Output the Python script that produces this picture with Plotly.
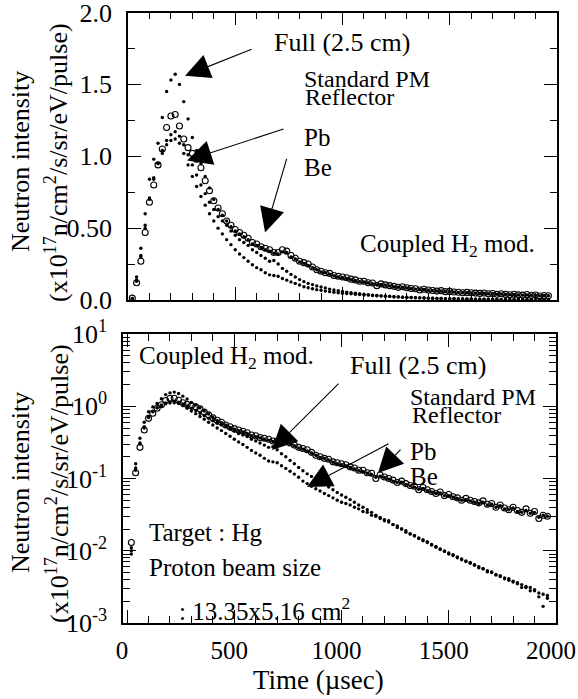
import plotly.graph_objects as go

# ---------------- data ----------------
time_us = [20, 40, 60, 80, 100, 120, 140, 160, 180, 200,
           220, 240, 260, 280, 300, 320, 340, 360, 380, 400,
           420, 440, 460, 480, 500, 520, 540, 560, 580, 600,
           620, 640, 660, 680, 700, 720, 740, 760, 780, 800,
           820, 840, 860, 880, 900, 920, 940, 960, 980, 1000,
           1020, 1040, 1060, 1080, 1100, 1120, 1140, 1160, 1180, 1200,
           1220, 1240, 1260, 1280, 1300, 1320, 1340, 1360, 1380, 1400,
           1420, 1440, 1460, 1480, 1500, 1520, 1540, 1560, 1580, 1600,
           1620, 1640, 1660, 1680, 1700, 1720, 1740, 1760, 1780, 1800,
           1820, 1840, 1860, 1880, 1900, 1920, 1940, 1960]

full_2p5cm = [0.009, 0.16, 0.36, 0.60, 0.84, 0.98, 1.09, 1.27, 1.45, 1.53,
              1.57, 1.50, 1.38, 1.26, 1.13, 1.04, 0.95, 0.86, 0.78, 0.70,
              0.63, 0.59, 0.55, 0.51, 0.48, 0.46, 0.44, 0.42, 0.39, 0.38,
              0.365, 0.35, 0.34, 0.325, 0.32, 0.335, 0.33, 0.30, 0.285, 0.265,
              0.255, 0.24, 0.225, 0.21, 0.195, 0.19, 0.18, 0.168, 0.16, 0.155,
              0.15, 0.142, 0.136, 0.128, 0.125, 0.118, 0.114, 0.104, 0.108, 0.103,
              0.098, 0.092, 0.088, 0.089, 0.083, 0.079, 0.076, 0.071, 0.073, 0.068,
              0.065, 0.062, 0.063, 0.058, 0.058, 0.055, 0.053, 0.050, 0.051, 0.049,
              0.047, 0.045, 0.047, 0.043, 0.044, 0.040, 0.042, 0.038, 0.037, 0.039,
              0.035, 0.034, 0.036, 0.033, 0.034, 0.029, 0.031, 0.030]

standard_pm = [0.013, 0.12, 0.27, 0.47, 0.68, 0.80, 0.94, 1.05, 1.20, 1.28,
               1.29, 1.21, 1.12, 1.06, 1.02, 0.98, 0.92, 0.83, 0.76, 0.69,
               0.64, 0.60, 0.55, 0.52, 0.49, 0.47, 0.45, 0.43, 0.40, 0.39,
               0.37, 0.36, 0.35, 0.33, 0.33, 0.35, 0.34, 0.31, 0.29, 0.27,
               0.26, 0.25, 0.23, 0.21, 0.20, 0.19, 0.185, 0.17, 0.165, 0.16,
               0.155, 0.145, 0.14, 0.13, 0.13, 0.12, 0.118, 0.10, 0.112, 0.105,
               0.10, 0.095, 0.088, 0.092, 0.085, 0.08, 0.078, 0.07, 0.075, 0.07,
               0.066, 0.062, 0.065, 0.058, 0.06, 0.056, 0.054, 0.05, 0.053, 0.05,
               0.048, 0.046, 0.049, 0.044, 0.045, 0.04, 0.043, 0.039, 0.037, 0.04,
               0.036, 0.034, 0.038, 0.033, 0.035, 0.028, 0.031, 0.03]

pb_reflector = [0.011, 0.13, 0.30, 0.50, 0.70, 0.84, 0.95, 1.04, 1.11, 1.15,
                1.17, 1.14, 1.08, 1.01, 0.94, 0.87, 0.80, 0.74, 0.68, 0.63,
                0.58, 0.55, 0.52, 0.48, 0.45, 0.42, 0.40, 0.38, 0.35, 0.33,
                0.31, 0.29, 0.27, 0.275, 0.25, 0.22, 0.20, 0.178, 0.16, 0.142,
                0.128, 0.116, 0.107, 0.097, 0.090, 0.083, 0.076, 0.070, 0.064, 0.059,
                0.055, 0.051, 0.047, 0.043, 0.040, 0.037, 0.034, 0.031, 0.029, 0.027,
                0.026, 0.023, 0.022, 0.020, 0.019, 0.017, 0.0163, 0.015, 0.0142, 0.0133,
                0.0122, 0.0115, 0.0106, 0.0099, 0.0093, 0.0088, 0.0082, 0.0077, 0.0072, 0.0069,
                0.0064, 0.0060, 0.0057, 0.0053, 0.0051, 0.0047, 0.0045, 0.0042, 0.0041, 0.0038,
                0.0036, 0.0034, 0.0031, 0.0031, 0.0028, 0.0026, 0.0025, 0.0024]

be_reflector = [0.01, 0.14, 0.31, 0.52, 0.71, 0.85, 0.95, 1.02, 1.08, 1.11,
                1.12, 1.09, 1.02, 0.94, 0.86, 0.79, 0.72, 0.66, 0.60, 0.55,
                0.50, 0.46, 0.42, 0.385, 0.35, 0.32, 0.295, 0.27, 0.245, 0.225,
                0.21, 0.19, 0.175, 0.17, 0.165, 0.15, 0.138, 0.126, 0.115, 0.104,
                0.092, 0.085, 0.078, 0.072, 0.067, 0.062, 0.058, 0.054, 0.050, 0.047,
                0.045, 0.043, 0.040, 0.038, 0.035, 0.034, 0.031, 0.030, 0.028, 0.026,
                0.025, 0.023, 0.021, 0.020, 0.018, 0.0172, 0.016, 0.0148, 0.0137, 0.013,
                0.012, 0.0112, 0.0104, 0.0098, 0.009, 0.0086, 0.008, 0.0075, 0.0071, 0.0067,
                0.0063, 0.0058, 0.0056, 0.0051, 0.005, 0.0046, 0.0044, 0.0041, 0.0039, 0.0037,
                0.0035, 0.0031, 0.0032, 0.0028, 0.0029, 0.0023, 0.0017, 0.0022]

x_tick_vals = [0, 500, 1000, 1500, 2000]
x_tick_text = ["0", "500", "1000", "1500", "2000"]
y_lin_tick_vals = [0.0, 0.5, 1.0, 1.5, 2.0]
y_lin_tick_text = ["0.0", "0.50", "1.0", "1.5", "2.0"]
y_log_tick_vals = [1e-3, 1e-2, 1e-1, 1e0, 1e1]
y_log_tick_text = ["10<sup>-3</sup>", "10<sup>-2</sup>", "10<sup>-1</sup>",
                   "10<sup>0</sup>", "10<sup>1</sup>"]
log_decades = [1e-3, 1e-2, 1e-1, 1e0]
log_minor_digits = [2, 3, 4, 5, 6, 7, 8, 9]

# ---------------- figure ----------------
W, H = 578, 699
FONT = "Liberation Serif"
BLACK = "black"


def px(x):
    return x / W


def py(y):
    return 1 - y / H


fig = go.Figure()
dot = dict(symbol="circle", size=3.4, color=BLACK, line=dict(width=0))
ring = dict(symbol="circle-open", size=6, color=BLACK, line=dict(width=1.1, color=BLACK))
series = [(full_2p5cm, dot, "Full (2.5 cm)"),
          (pb_reflector, dot, "Pb"),
          (be_reflector, dot, "Be"),
          (standard_pm, ring, "Standard PM")]
for xa, ya in (("x", "y"), ("x2", "y2")):
    for vals, mk, name in series:
        fig.add_trace(go.Scatter(x=time_us, y=vals, mode="markers", marker=mk,
                                 name=name, xaxis=xa, yaxis=ya,
                                 showlegend=False, hoverinfo="skip"))

common = dict(showline=True, linecolor=BLACK, linewidth=1.5, mirror="allticks",
              ticks="inside", ticklen=13, tickwidth=1.2, tickcolor=BLACK,
              showgrid=False, zeroline=False, automargin=False,
              tickfont=dict(family=FONT, size=26, color=BLACK))

minor_x = dict(ticks="inside", ticklen=7, tickwidth=1, tickcolor=BLACK,
               dtick=100, tick0=0, showgrid=False)

log_minor_vals = [d * m for d in log_decades for m in log_minor_digits]

fig.update_layout(
    width=W, height=H, autosize=False,
    margin=dict(l=0, r=0, t=0, b=0, autoexpand=False),
    paper_bgcolor="white", plot_bgcolor="white",
    showlegend=False,
    font=dict(family=FONT, color=BLACK),
    xaxis=dict(domain=[px(128), px(557)], range=[0, 2000], anchor="y",
               tickmode="array", tickvals=x_tick_vals, showticklabels=False,
               minor=minor_x, **common),
    yaxis=dict(domain=[py(300), py(12.5)], range=[0, 2.0], anchor="x",
               tickmode="array", tickvals=y_lin_tick_vals, ticktext=y_lin_tick_text,
               ticklabelstandoff=9, ticklabeloverflow="allow",
               minor=dict(ticks="inside", ticklen=7, tickwidth=1, tickcolor=BLACK,
                          dtick=0.25, tick0=0, showgrid=False),
               **common),
    xaxis2=dict(domain=[px(123), px(556)], range=[-19, 2000], anchor="y2",
                tickmode="array", tickvals=x_tick_vals, ticktext=x_tick_text,
                ticklabelstandoff=4, ticklabelshift=-5, ticklabeloverflow="allow",
                minor=minor_x, **{**common, "tickfont": dict(family=FONT, size=25, color=BLACK)}),
    yaxis2=dict(domain=[py(623), py(334)], type="log", range=[-3, 1], anchor="x2",
                tickmode="array", tickvals=y_log_tick_vals, ticktext=y_log_tick_text,
                ticklabelstandoff=9, ticklabeloverflow="allow",
                minor=dict(ticks="inside", ticklen=7, tickwidth=1, tickcolor=BLACK,
                           tickmode="array", tickvals=log_minor_vals, showgrid=False),
                **common),
)

ann = []


def label(text, x, y, xr, yr, size=25):
    ann.append(dict(text=text, x=x, y=y, xref=xr, yref=yr, showarrow=False,
                    xanchor="left", yanchor="middle",
                    font=dict(family=FONT, size=size, color=BLACK)))


def arrow(x, y, ax, ay, xr, yr):
    ann.append(dict(text="", x=x, y=y, xref=xr, yref=yr, ax=ax, ay=ay,
                    showarrow=True, arrowhead=2, arrowsize=4.5, arrowwidth=1.1,
                    arrowcolor=BLACK))


# top panel
label("Full (2.5 cm)", 671, 1.79, "x", "y", 26)
label("Standard PM", 811, 1.54, "x", "y", 24)
label("Reflector", 816, 1.415, "x", "y", 24)
label("Pb", 811, 1.13, "x", "y")
label("Be", 811, 0.92, "x", "y")
label("Coupled H<sub>2</sub> mod.", 1072, 0.38, "x", "y")
arrow(266, 1.56, 68, -27, "x", "y")
arrow(275, 0.97, 98, -32, "x", "y")
arrow(639, 0.47, 22, -75, "x", "y")

# bottom panel (y given as log10 for log axis)
label("Coupled H<sub>2</sub> mod.", 47, 0.68, "x2", "y2")
label("Full (2.5 cm)", 1030, 0.571, "x2", "y2", 26)
label("Standard PM", 1310, 0.125, "x2", "y2", 24)
label("Reflector", 1319, -0.125, "x2", "y2", 24)
label("Pb", 1310, -0.633, "x2", "y2")
label("Be", 1310, -0.979, "x2", "y2")
label("Target : Hg", 93, -1.754, "x2", "y2")
label("Proton beam size", 93, -2.225, "x2", "y2")
label(": 13.35x5.16 cm<sup>2</sup>", 233, -2.80, "x2", "y2")
arrow(676, -0.606, 68, -68, "x2", "y2")
arrow(839, -1.118, 83, -44, "x2", "y2")
arrow(1170, -0.924, 24, -25, "x2", "y2")

# axis titles
ytitle2 = "(x10<sup>17</sup>n/cm<sup>2</sup>/s/sr/eV/pulse)"
for yc in (162, 483):
    ann.append(dict(text="Neutron intensity", x=px(20), y=py(yc), xref="paper", yref="paper",
                    showarrow=False, textangle=-90, xanchor="center", yanchor="middle",
                    font=dict(family=FONT, size=26, color=BLACK)))
    ann.append(dict(text=ytitle2, x=px(57), y=py(yc + 1), xref="paper", yref="paper",
                    showarrow=False, textangle=-90, xanchor="center", yanchor="middle",
                    font=dict(family=FONT, size=26, color=BLACK)))
ann.append(dict(text="Time (µsec)", x=px(318), y=py(680), xref="paper", yref="paper",
                showarrow=False, xanchor="center", yanchor="middle",
                font=dict(family=FONT, size=27, color=BLACK)))

fig.update_layout(annotations=ann)
fig.write_html("out.html")
